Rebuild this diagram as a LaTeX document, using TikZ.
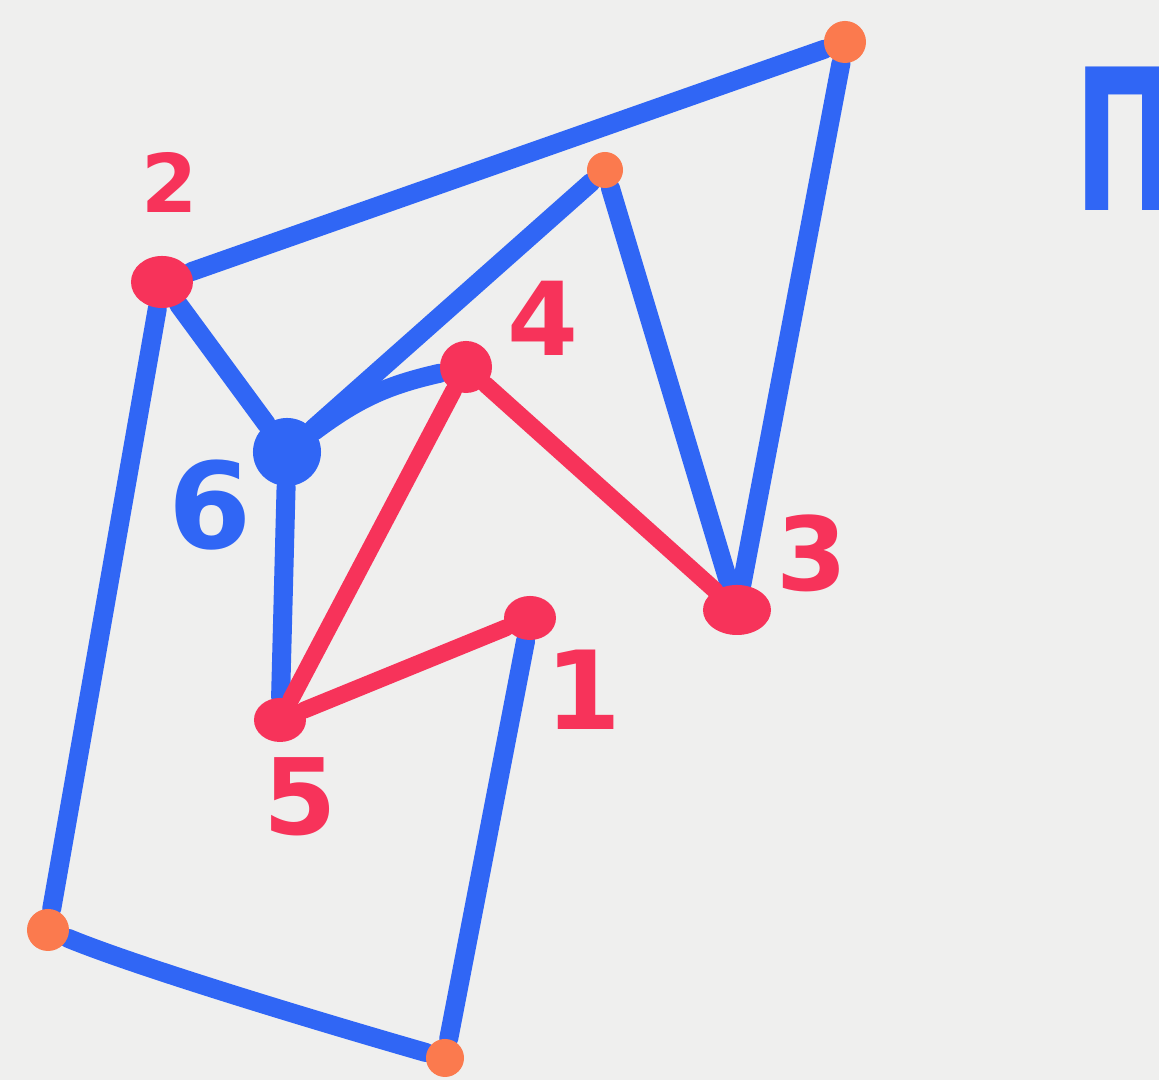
\documentclass[tikz,border=0pt]{standalone}
\usepackage{fontspec}
\setsansfont{DejaVu Sans}
\usepackage{tikz}
\usetikzlibrary{shapes.geometric}
\definecolor{PenBlue}{HTML}{3066F5}
\definecolor{PenRed}{HTML}{F7335A}
\definecolor{PenOrange}{HTML}{FB7A4E}
\definecolor{Paper}{HTML}{EFEFEE}
\pgfdeclarelayer{bg}
\pgfsetlayers{bg,main}

\begin{document}
\begin{tikzpicture}[
  x=0.01cm,y=-0.01cm,
  pen/.style={line width=0.19cm,line cap=round,line join=round},
  bl/.style={pen,PenBlue},
  rd/.style={pen,PenRed,line width=0.17cm},
  vtx/.style={ellipse,fill=PenRed,inner sep=0pt},
  hub/.style={circle,fill=PenBlue,inner sep=0pt,minimum size=0.68cm},
  corner/.style={circle,fill=PenOrange,inner sep=0pt,minimum size=0.38cm},
  num/.style={font=\sffamily\bfseries\fontsize{#1}{#1}\selectfont,inner sep=0pt}
]
\useasboundingbox (0,0) rectangle (1159,1080);
% outer corners
\node[corner,minimum size=0.42cm] (c1) at (845,42) {};
\node[corner,minimum size=0.36cm] (c2) at (605,170) {};
\node[corner,minimum size=0.42cm] (c3) at (48,930) {};
\node[corner,minimum size=0.38cm] (c4) at (445,1058) {};
% numbered vertices
\node[vtx,minimum width=0.62cm,minimum height=0.52cm] (v2) at (162,282) {};
\node[hub] (v6) at (287,452) {};
\node[vtx,minimum size=0.52cm] (v4) at (466,367) {};
\node[vtx,minimum width=0.68cm,minimum height=0.5cm] (v3) at (737,610) {};
\node[vtx,minimum width=0.52cm,minimum height=0.44cm] (v1) at (530,618) {};
\node[vtx,minimum width=0.52cm,minimum height=0.44cm] (v5) at (280,720) {};
\node[num=23,PenRed] (l2) at (170,182) {2};
\node[num=29,PenRed] (l4) at (543,318) {4};
\node[num=34,PenBlue] (l6) at (210,505) {6};
\node[num=29,PenRed] (l3) at (812,553) {3};
\node[num=31,PenRed] (l1) at (583,690) {1};
\node[num=30,PenRed] (l5) at (300,797) {5};
\begin{scope}
\clip (0,0) rectangle (1159,1080);
\node[font=\sffamily\bfseries\fontsize{56}{56}\selectfont,PenBlue,inner sep=0pt,
      anchor=north west,xscale=0.62] (ttl) at (1074,66) {П};
\end{scope}
\begin{pgfonlayer}{bg}
\fill[Paper] (0,0) rectangle (1159,1080);
\draw[bl] (v2) -- (c1);
\draw[bl] (c1) -- (v3);
\draw[bl] (v2) -- (v6);
\draw[bl] (v6) -- (c2);
\draw[bl] (c2) -- (v3);
\draw[bl] (v6) to[bend left=12] (v4);
\draw[bl] (v6) -- (v5);
\draw[bl] (v2) -- (c3);
\draw[bl] (c3) .. controls (140,968) and (330,1025) .. (c4);
\draw[bl] (c4) -- (v1);
\draw[rd] (v5) -- (v4);
\draw[rd] (v4) -- (v3);
\draw[rd] (v5) -- (v1);
\end{pgfonlayer}
\end{tikzpicture}
\end{document}
